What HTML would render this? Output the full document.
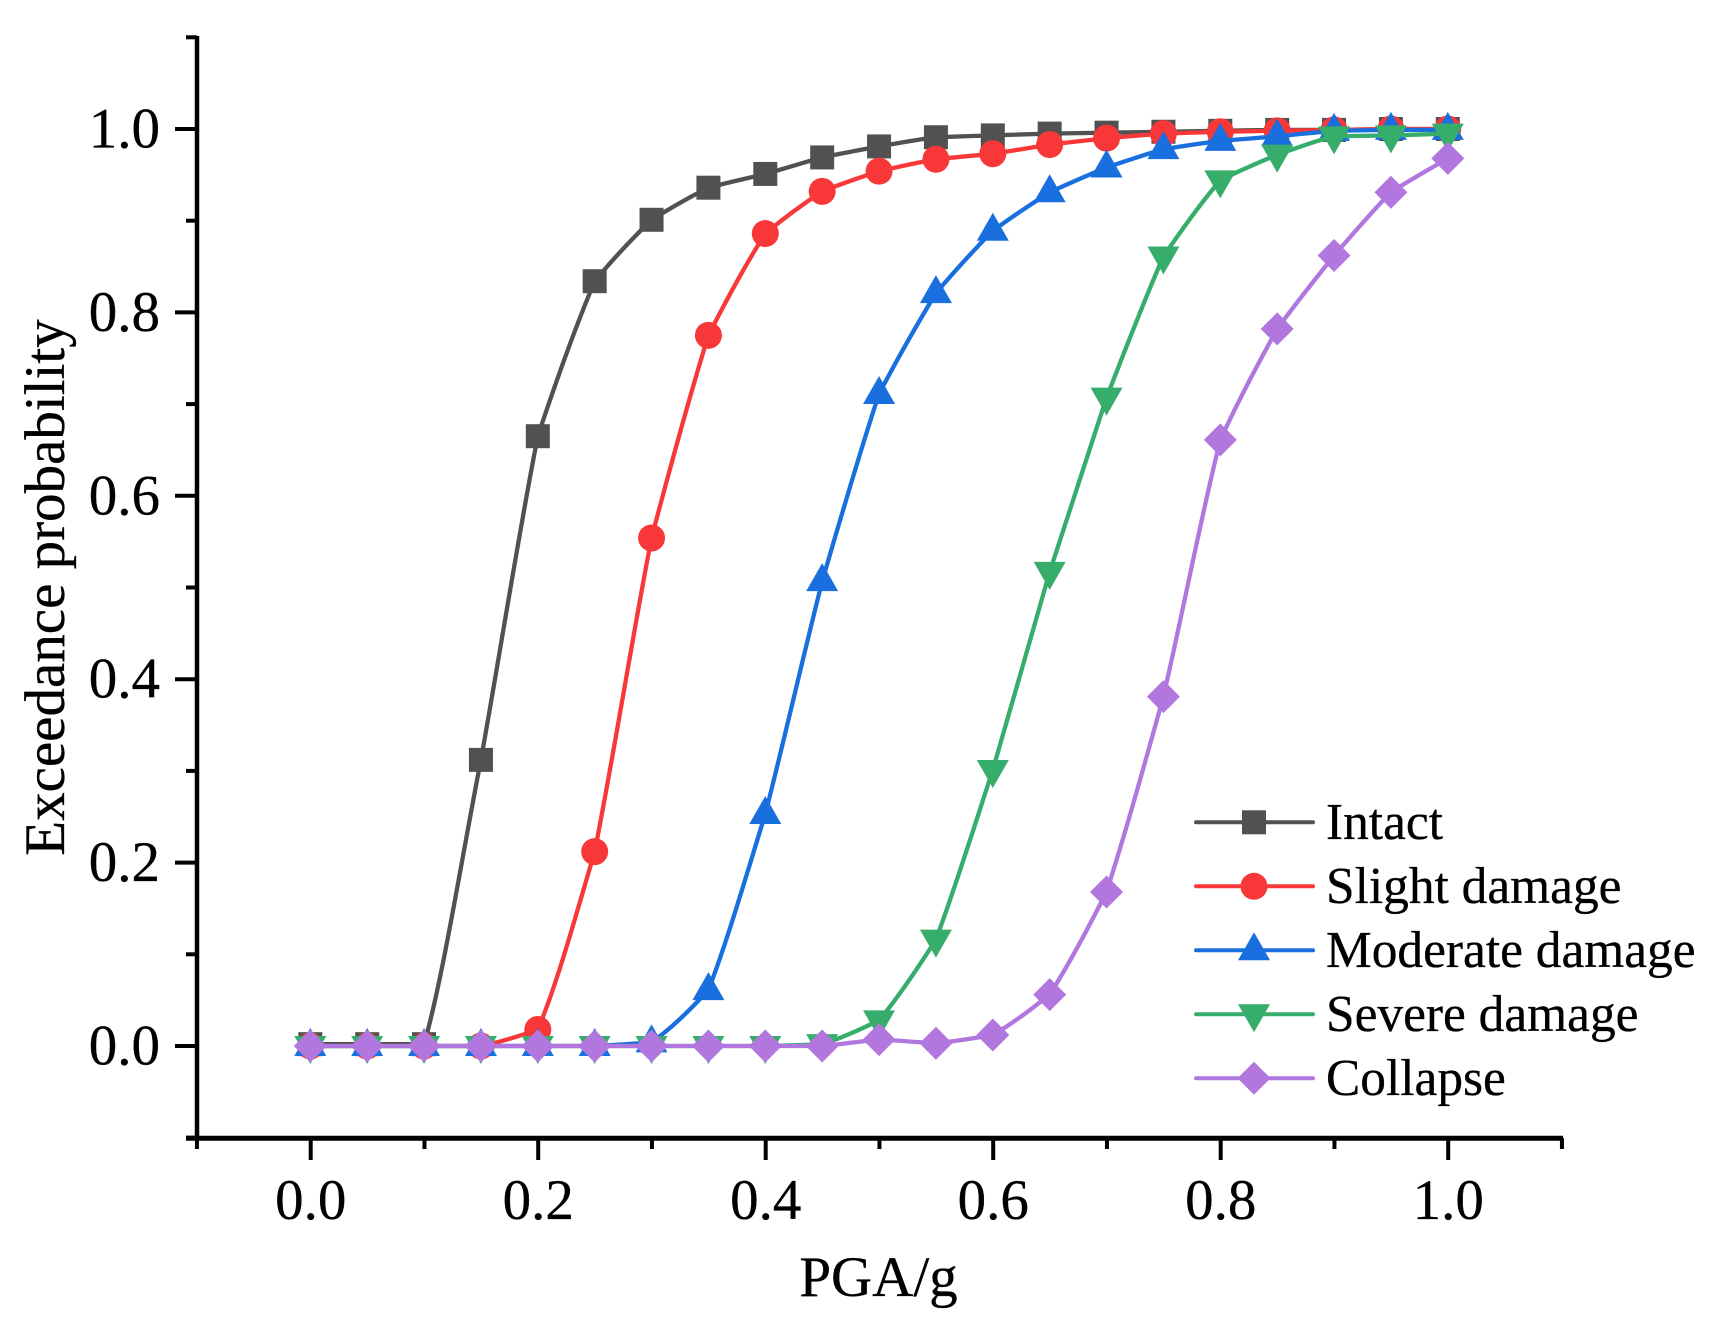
<!DOCTYPE html>
<html lang="en">
<head>
<meta charset="utf-8">
<title>Exceedance probability vs PGA</title>
<style>
html,body{margin:0;padding:0;background:#fff;}
svg{display:block;}
text{font-family:"Liberation Serif",serif;fill:#000;stroke:#000;stroke-width:0.3px;}
</style>
</head>
<body>
<svg id="chart" xmlns="http://www.w3.org/2000/svg" width="1711" height="1336" viewBox="0 0 1711 1336"></svg>
<script>
const pga = [0,0.05,0.1,0.15,0.2,0.25,0.3,0.35,0.4,0.45,0.5,0.55,0.6,0.65,0.7,0.75,0.8,0.85,0.9,0.95,1.0];
const intact = [0.002,0.002,0.002,0.312,0.665,0.834,0.901,0.936,0.951,0.969,0.981,0.991,0.993,0.995,0.996,0.997,0.998,0.999,0.999,1.0,1.0];
const slight = [0,0,0,0,0.018,0.212,0.554,0.775,0.886,0.932,0.954,0.967,0.973,0.983,0.990,0.995,0.997,0.998,0.999,1.0,1.0];
const moderate = [0,0,0,0,0,0,0.004,0.061,0.253,0.507,0.711,0.821,0.889,0.931,0.958,0.978,0.987,0.992,0.998,0.999,0.999];
const severe = [0,0,0,0,0,0,0,0,0,0.002,0.028,0.116,0.301,0.517,0.707,0.861,0.944,0.972,0.992,0.993,0.995];
const collapse = [0,0,0,0,0,0,0,0,0,0,0.007,0.003,0.012,0.056,0.168,0.381,0.661,0.782,0.862,0.931,0.968];
const seriesNames = ["Intact","Slight damage","Moderate damage","Severe damage","Collapse"];
const xTickLabels = ["0.0","0.2","0.4","0.6","0.8","1.0"];
const yTickLabels = ["0.0","0.2","0.4","0.6","0.8","1.0"];

const NS = "http://www.w3.org/2000/svg";
const svg = document.getElementById("chart");
const xScale = v => 310.3 + v * 1137.5;
const yScale = v => 1046 - v * 917;
const seriesData = [intact, slight, moderate, severe, collapse];
const colors = ["#515151","#F83838","#1A6FDF","#37AD6B","#B177DE"];
const shapes = ["square","circle","up","down","diamond"];
const curveAmount = 0.3;

function mk(tag, attrs, parent) {
  const el = document.createElementNS(NS, tag);
  for (const k in attrs) el.setAttribute(k, attrs[k]);
  (parent || svg).appendChild(el);
  return el;
}

function marker(shape, cx, cy, color, parent) {
  let el;
  if (shape === "square") {
    el = mk("rect", {x: cx - 12, y: cy - 12, width: 24, height: 24, fill: color}, parent);
  } else if (shape === "circle") {
    el = mk("circle", {cx: cx, cy: cy, r: 13.5, fill: color}, parent);
  } else if (shape === "up") {
    el = mk("polygon", {points: `${cx},${cy-18} ${cx+16},${cy+10} ${cx-16},${cy+10}`, fill: color}, parent);
  } else if (shape === "down") {
    el = mk("polygon", {points: `${cx},${cy+18} ${cx+16},${cy-10} ${cx-16},${cy-10}`, fill: color}, parent);
  } else {
    el = mk("polygon", {points: `${cx},${cy-16.5} ${cx+16.5},${cy} ${cx},${cy+16.5} ${cx-16.5},${cy}`, fill: color}, parent);
  }
  return el;
}

/* gently curved path: tangents blended between chord slope and monotone slope */
function smoothPath(xs, ys) {
  const n = xs.length;
  const slopes = [];
  for (let i = 0; i < n - 1; i++) slopes.push((ys[i+1] - ys[i]) / (xs[i+1] - xs[i]));
  const tan = [slopes[0]];
  for (let i = 1; i < n - 1; i++) {
    const a = slopes[i-1], b = slopes[i];
    tan.push(a * b <= 0 ? 0 : 2 * a * b / (a + b));
  }
  tan.push(slopes[n-2]);
  let d = "M" + xs[0].toFixed(1) + " " + ys[0].toFixed(1);
  for (let i = 0; i < n - 1; i++) {
    const h = (xs[i+1] - xs[i]) / 3;
    const t0 = slopes[i] + (tan[i] - slopes[i]) * curveAmount;
    const t1 = slopes[i] + (tan[i+1] - slopes[i]) * curveAmount;
    d += "C" + (xs[i] + h).toFixed(1) + " " + (ys[i] + t0 * h).toFixed(1) + " " +
         (xs[i+1] - h).toFixed(1) + " " + (ys[i+1] - t1 * h).toFixed(1) + " " +
         xs[i+1].toFixed(1) + " " + ys[i+1].toFixed(1);
  }
  return d;
}

/* axes */
const axisGroup = mk("g", {stroke: "#000", "stroke-width": 4, fill: "none"});


const yAxisLine = mk("line", {x1: 197, y1: 36, x2: 197, y2: 1140, "stroke-width": 4.5}, axisGroup);


const xAxisLine = mk("line", {x1: 186, y1: 1138.3, x2: 1563, y2: 1138.3, "stroke-width": 5}, axisGroup);



for (let i = -1; i <= 11; i++) {
  const v = i / 10;
  const major = i >= 0 && i % 2 === 0 && i <= 10;
  const x = xScale(v) + 0.4;
  const xt = mk("line", {x1: x, y1: 1138, x2: x, y2: major ? 1160 : 1149}, axisGroup);
  
  
  const y = yScale(v);
  const yt = mk("line", {x1: major ? 175 : 186, y1: y, x2: 197, y2: y}, axisGroup);
  
  
}

xTickLabels.forEach((label) => {
  const t = mk("text", {x: xScale(parseFloat(label)) + 0.5, y: 1219, "text-anchor": "middle", "font-size": 57});
  t.textContent = label;
  
  
});
yTickLabels.forEach((label) => {
  const t = mk("text", {x: 160, y: yScale(parseFloat(label)) + 18.5, "text-anchor": "end", "font-size": 57});
  t.textContent = label;
  
  
});

const xTitle = mk("text", {x: 878.5, y: 1296, "text-anchor": "middle", "font-size": 57});
xTitle.textContent = "PGA/g";


const yTitle = mk("text", {transform: "translate(64 587.5) rotate(-90)", "text-anchor": "middle", "font-size": 57});
yTitle.textContent = "Exceedance probability";



/* series */
seriesData.forEach((vals, s) => {
  const g = mk("g", {});
  
  
  const xs = pga.map(xScale);
  const ys = vals.map(yScale);
  const line = mk("path", {d: smoothPath(xs, ys), fill: "none", stroke: colors[s], "stroke-width": 4.3, "stroke-linejoin": "round"}, g);
  
  
  vals.forEach((v, i) => {
    const m = marker(shapes[s], xScale(pga[i]), yScale(v), colors[s], g);
    
    
  });
});

/* legend */
const legend = mk("g", {});


seriesNames.forEach((name, s) => {
  const y = 822.3 + s * 64;
  const row = mk("g", {}, legend);
  
  
  const ln = mk("line", {x1: 1196, y1: y, x2: 1313, y2: y, stroke: colors[s], "stroke-width": 4, "stroke-linecap": "round"}, row);
  
  
  const mm = marker(shapes[s], 1254, y, colors[s], row);
  
  
  const t = mk("text", {x: 1326, y: y + 16.7, "font-size": 51.4}, row);
  t.textContent = name;
  
  
});
</script>
</body>
</html>
